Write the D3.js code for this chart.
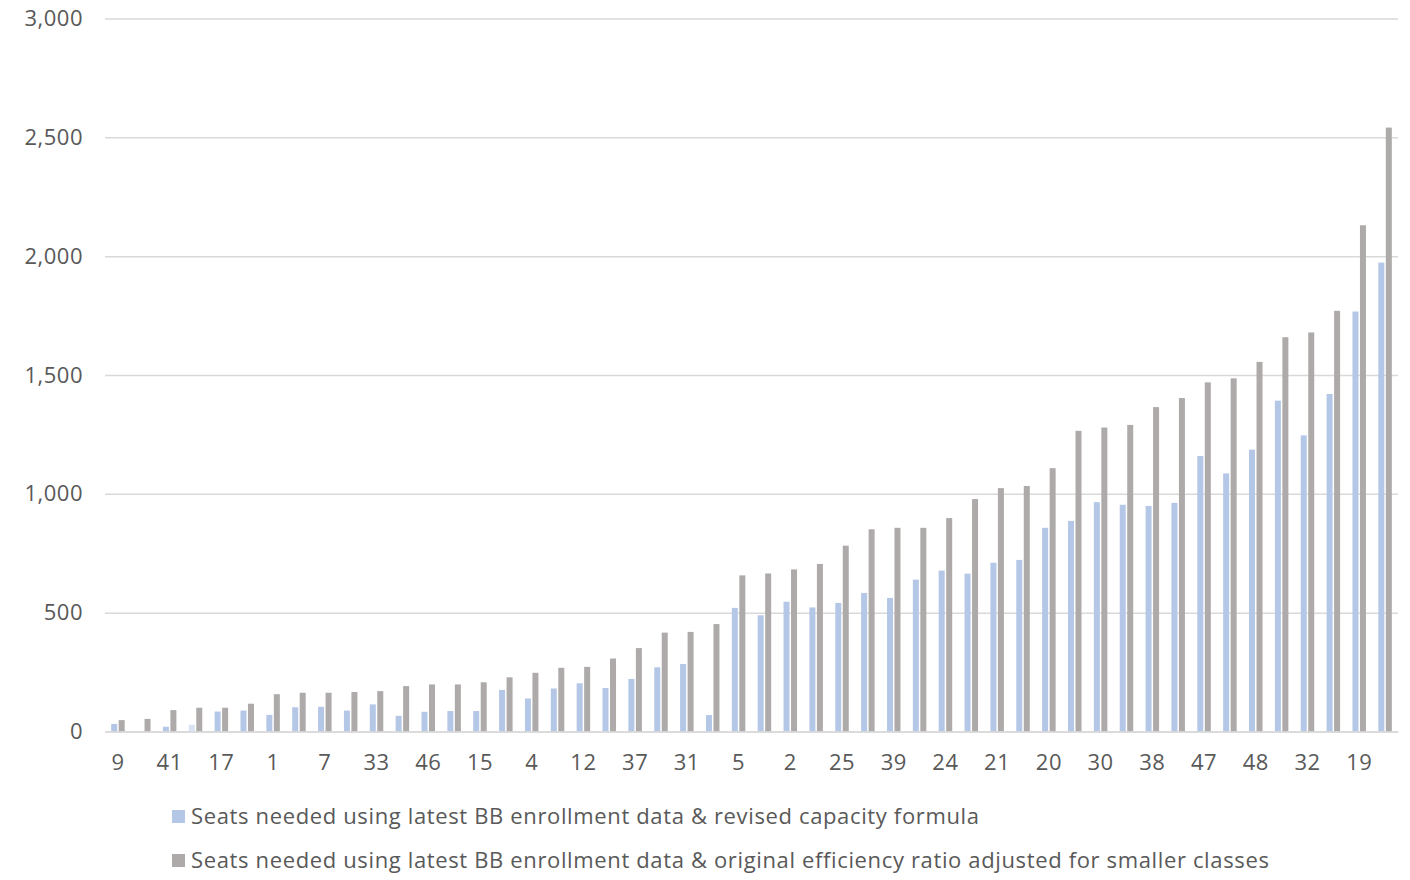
<!DOCTYPE html>
<html>
<head>
<meta charset="utf-8">
<script src="https://cdn.jsdelivr.net/npm/d3@7"></script>
<style>
  html, body { margin: 0; padding: 0; background: #ffffff; }
  svg { display: block; }
  text { font-family: "Open Sans", "Noto Sans", sans-serif; fill: #595959; }
</style>
</head>
<body>
<svg id="chart" width="1410" height="880"></svg>
<script>
// District numbers, sorted by seats needed (original efficiency ratio)
const districts = [
  "9", "3", "41", "6", "17", "8", "1", "10", "7", "11",
  "33", "13", "46", "14", "15", "16", "4", "18", "12", "22",
  "37", "23", "31", "26", "5", "27", "2", "28", "25", "29",
  "39", "34", "24", "35", "21", "36", "20", "40", "30", "42",
  "38", "43", "47", "44", "48", "45", "32", "49", "19", "50"
];

// Seats needed using latest BB enrollment data & revised capacity formula
const revisedSeats = [
  32, 0, 20, 28, 84, 88, 70, 102, 104, 88,
  114, 66, 83, 86, 86, 175, 139, 181, 203, 183,
  221, 270, 284, 69, 520, 489, 546, 522, 541, 583,
  562, 639, 677, 664, 710, 722, 857, 886, 965, 954,
  949, 962, 1159, 1086, 1186, 1392, 1246, 1420, 1767, 1973
];

// Seats needed using latest BB enrollment data & original efficiency ratio adjusted for smaller classes
const originalSeats = [
  48, 53, 90, 100, 100, 117, 157, 163, 163, 166,
  170, 191, 198, 198, 207, 228, 247, 268, 272, 307,
  351, 416, 419, 452, 657, 665, 682, 705, 782, 851,
  857, 857, 898, 978, 1024, 1033, 1108, 1265, 1279, 1290,
  1365, 1403, 1469, 1486, 1555, 1659, 1679, 1770, 2130, 2541
];

const yTicks = [0, 500, 1000, 1500, 2000, 2500, 3000];

const seriesNames = [
  "Seats needed using latest BB enrollment data & revised capacity formula",
  "Seats needed using latest BB enrollment data & original efficiency ratio adjusted for smaller classes"
];
const seriesColors = ["#b4c7e7", "#aeaaaa"];
// One point in the first series carries its own, paler fill
const pointFills = { "0-3": "#dae3f3" };

const svg = d3.select("#chart");
const plot = { left: 105, right: 1398, top: 18.5, bottom: 731.5 };
const fontSize = 22;
const fontStack = "'Open Sans', 'Noto Sans', sans-serif";

const x = d3.scaleBand()
  .domain(districts)
  .range([plot.left, plot.right])
  .paddingInner(0.478)
  .paddingOuter(0.239);

const xSub = d3.scaleBand()
  .domain([0, 1])
  .range([0, x.bandwidth()])
  .paddingInner(0.2);

const y = d3.scaleLinear()
  .domain([0, 3000])
  .range([plot.bottom, plot.top]);

// Horizontal gridlines and value labels
const yAxis = d3.axisLeft(y)
  .tickValues(yTicks)
  .tickFormat(d3.format(","))
  .tickSize(-(plot.right - plot.left))
  .tickPadding(22);

const gy = svg.append("g")
  .attr("transform", `translate(${plot.left},0)`)
  .call(yAxis);
gy.select(".domain").remove();
gy.selectAll(".tick line").attr("stroke", "#d9d9d9").attr("stroke-width", 1.5);
gy.selectAll(".tick text")
  .attr("font-size", fontSize)
  .attr("fill", "#595959")
  .attr("letter-spacing", "0.5px")
  .style("font-family", fontStack);

// Bars
const series = [revisedSeats, originalSeats];
series.forEach((vals, si) => {
  svg.append("g")
    .selectAll("rect")
    .data(vals)
    .join("rect")
    .attr("x", (d, i) => x(districts[i]) + xSub(si))
    .attr("width", xSub.bandwidth())
    .attr("y", d => y(d))
    .attr("height", d => y(0) - y(d))
    .attr("fill", (d, i) => pointFills[`${si}-${i}`] || seriesColors[si]);
});

// Category axis: every second district is labelled
const xAxis = d3.axisBottom(x)
  .tickValues(districts.filter((d, i) => i % 2 === 0))
  .tickSize(0)
  .tickPadding(23);

const gx = svg.append("g")
  .attr("transform", `translate(0,${plot.bottom})`)
  .call(xAxis);
gx.select(".domain")
  .attr("stroke", "#d9d9d9")
  .attr("stroke-width", 1.5);
gx.selectAll(".tick text")
  .attr("font-size", fontSize)
  .attr("fill", "#595959")
  .attr("letter-spacing", "0.5px")
  .style("font-family", fontStack);

// Legend
const legend = svg.append("g").attr("transform", "translate(172,0)");
const legendRows = [816, 860];
seriesNames.forEach((name, i) => {
  legend.append("rect")
    .attr("x", 0)
    .attr("y", legendRows[i] - 6)
    .attr("width", 13)
    .attr("height", 13)
    .attr("fill", seriesColors[i]);
  legend.append("text")
    .attr("x", 19)
    .attr("y", legendRows[i])
    .attr("dy", "0.35em")
    .attr("font-size", fontSize)
    .attr("letter-spacing", "0.64px")
    .text(name);
});
</script>
</body>
</html>
